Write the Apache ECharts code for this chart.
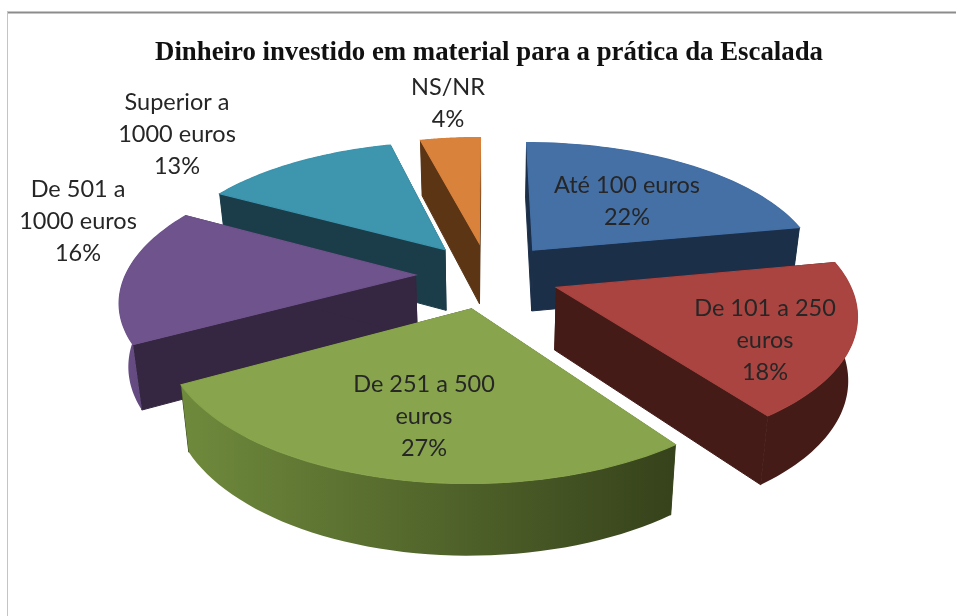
<!DOCTYPE html>
<html>
<head>
<meta charset="utf-8">
<title>Dinheiro investido em material</title>
<script src="https://cdn.jsdelivr.net/npm/echarts@6/dist/echarts.min.js"></script>
<style>
  html, body { margin: 0; padding: 0; background: #fff; }
  #chart { width: 956px; height: 616px; }
</style>
</head>
<body>
<div id="chart"></div>
<script>
var titleText = 'Dinheiro investido em material para a prática da Escalada'
var categories = ['Até 100 euros', 'De 101 a 250 euros', 'De 251 a 500 euros', 'De 501 a 1000 euros', 'Superior a 1000 euros', 'NS/NR']
var percents = [22, 18, 27, 16, 13, 4]

// how each label is wrapped in the picture
var labelLines = [
  ['Até 100 euros', '22%'],
  ['De 101 a 250', 'euros', '18%'],
  ['De 251 a 500', 'euros', '27%'],
  ['De 501 a', '1000 euros', '16%'],
  ['Superior a', '1000 euros', '13%'],
  ['NS/NR', '4%']
]
var labelAt = [[627, 201], [765, 340], [424, 416], [78, 221], [177, 134], [448, 103]]

var topColors = ['#4470a6', '#a94441', '#88a54d', '#6f538c', '#3e95ae', '#d9823c']
var cutColors = ['#1c2f49', '#441b17', '#3a461f', '#352742', '#1a3d49', '#5c3515']
var rimColors = [['#1c2f49', '#1c2f49'], ['#441b17', '#441b17'], ['#6f8a3c', '#36421b'], ['#6a4f88', '#4f3a66'], ['#1a3d49', '#1a3d49'], ['#5c3515', '#5c3515']]

// projection of the tilted disc
var cx = 488, cy = 275
var scaleX = 290, scaleY = 133, persp = 0.166
var explode = 0.25, depth = 62, depthPersp = 39

function project(u, v) {
  var s = 1 / (1 - persp * v)
  return [cx + scaleX * u * s, cy + scaleY * v * s, s]
}
function lower(p) {
  // bottom edge of the wall, pulled slightly towards the middle
  return [cx + (p[0] - cx) * 0.975, p[1] + depth + depthPersp * (p[2] - 1)]
}

var total = percents.reduce(function (a, b) { return a + b }, 0)
var slices = []
var acc = 0
percents.forEach(function (v, i) {
  var a0 = acc / total * Math.PI * 2
  acc += v
  var a1 = acc / total * Math.PI * 2
  slices.push({ idx: i, a0: a0, a1: a1, mid: (a0 + a1) / 2 })
})
// paint from the back of the pie to the front
var order = slices.slice().sort(function (a, b) { return -Math.cos(a.mid) + Math.cos(b.mid) })

function renderSlice(params, api) {
  var sl = order[api.value(0)]
  var ox = Math.sin(sl.mid) * explode
  var oy = -Math.cos(sl.mid) * explode
  var tip = project(ox, oy)
  var rim = []
  var n = 48
  for (var k = 0; k <= n; k++) {
    var a = sl.a0 + (sl.a1 - sl.a0) * k / n
    rim.push(project(ox + Math.sin(a), oy - Math.cos(a)))
  }
  var xy = function (p) { return [p[0], p[1]] }
  var rimLow = rim.map(lower).reverse()
  var i = sl.idx
  var children = []
  // the two cut faces, stroked so no seam shows against the wall
  var cutStyle = { fill: cutColors[i], stroke: cutColors[i], lineWidth: 1 }
  children.push({ type: 'polygon', shape: { points: [xy(tip), xy(rim[0]), lower(rim[0]), lower(tip)] }, style: cutStyle })
  children.push({ type: 'polygon', shape: { points: [xy(tip), xy(rim[n]), lower(rim[n]), lower(tip)] }, style: cutStyle })
  // outer wall
  children.push({
    type: 'polygon',
    shape: { points: rim.map(xy).concat(rimLow) },
    style: { fill: new echarts.graphic.LinearGradient(0, 0, 1, 0, [{ offset: 0, color: rimColors[i][0] }, { offset: 1, color: rimColors[i][1] }]) }
  })
  // top, stroked in its own colour to hide the wall's edge
  children.push({ type: 'polygon', shape: { points: [xy(tip)].concat(rim.map(xy)) }, style: { fill: topColors[i], stroke: topColors[i], lineWidth: 1.2 } })
  return { type: 'group', children: children }
}

function renderLabel(params, api) {
  var i = api.value(0)
  return {
    type: 'text',
    style: {
      x: labelAt[i][0], y: labelAt[i][1],
      text: labelLines[i].join('\n'),
      align: 'center', verticalAlign: 'middle',
      font: '23.5px Lato, "Noto Sans", sans-serif',
      lineHeight: 32,
      fill: '#262626'
    }
  }
}

var chart = echarts.init(document.getElementById('chart'), null, { renderer: 'canvas' })
chart.setOption({
  animation: false,
  backgroundColor: '#fff',
  title: {
    text: titleText,
    left: 484, top: 35, textAlign: 'center',
    textStyle: { fontFamily: '"Liberation Serif", serif', fontWeight: 'bold', fontSize: 26.8, color: '#111' }
  },
  graphic: [
    { type: 'line', shape: { x1: 7, y1: 12.5, x2: 956, y2: 12.5 }, style: { stroke: '#8c8c8c', lineWidth: 2 } },
    { type: 'line', shape: { x1: 7.5, y1: 12, x2: 7.5, y2: 616 }, style: { stroke: '#c4c4c4', lineWidth: 1 } }
  ],
  series: [
    { type: 'custom', coordinateSystem: 'none', renderItem: renderSlice, data: order.map(function (s, i) { return [i] }), silent: true, z: 2 },
    { type: 'custom', coordinateSystem: 'none', renderItem: renderLabel, data: categories.map(function (c, i) { return [i] }), silent: true, z: 3 }
  ]
})
</script>
</body>
</html>
